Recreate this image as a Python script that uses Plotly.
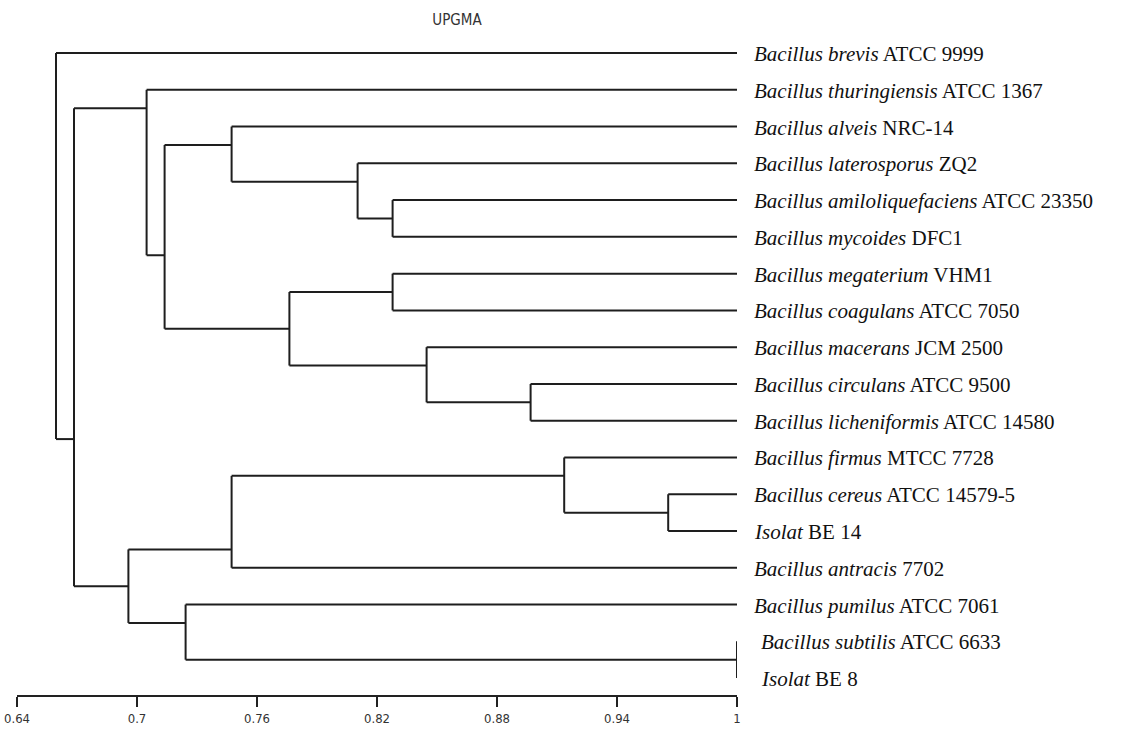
import plotly.graph_objects as go

# ---------------- data ----------------
species = [
    "Bacillus brevis", "Bacillus thuringiensis", "Bacillus alveis", "Bacillus laterosporus",
    "Bacillus amiloliquefaciens", "Bacillus mycoides", "Bacillus megaterium", "Bacillus coagulans",
    "Bacillus macerans", "Bacillus circulans", "Bacillus licheniformis", "Bacillus firmus",
    "Bacillus cereus", "Isolat", "Bacillus antracis", "Bacillus pumilus",
    "Bacillus subtilis", "Isolat",
]
strains = [
    "ATCC 9999", "ATCC 1367", "NRC-14", "ZQ2",
    "ATCC 23350", "DFC1", "VHM1", "ATCC 7050",
    "JCM 2500", "ATCC 9500", "ATCC 14580", "MTCC 7728",
    "ATCC 14579-5", "BE 14", "7702", "ATCC 7061",
    "ATCC 6633", "BE 8",
]
# merges: (child_a, child_b); ids 0..17 are leaves, 18+ are clusters in order
merge_children = [
    (16, 17), (12, 13), (11, 19), (9, 10), (8, 21), (6, 7), (4, 5), (3, 24),
    (23, 22), (2, 25), (20, 14), (15, 18), (27, 26), (1, 30), (28, 29), (31, 32), (0, 33),
]
merge_similarity = [
    1.0, 0.9656, 0.9136, 0.8968, 0.8448, 0.8278, 0.8278, 0.8103,
    0.7762, 0.7473, 0.7473, 0.7243, 0.7138, 0.7048, 0.6957, 0.6685, 0.6595,
]
tick_values = [0.64, 0.70, 0.76, 0.82, 0.88, 0.94, 1.0]
tick_labels = ["0.64", "0.7", "0.76", "0.82", "0.88", "0.94", "1"]

# ---------------- layout of the tree ----------------
n = len(species)
LEAF_SIM = 1.0
info = {}  # id -> (x, y, first_leaf, last_leaf)
for i in range(n):
    info[i] = (LEAF_SIM, float(i), i, i)

xs, ys = [], []
for k, ((a, b), s) in enumerate(zip(merge_children, merge_similarity)):
    ax, ay, af, al = info[a]
    bx, by, bf, bl = info[b]
    if af > bf:
        ax, ay, af, al, bx, by, bf, bl = bx, by, bf, bl, ax, ay, af, al
    node_y = (al + bf) / 2.0
    xs += [s, s, None]
    ys += [ay, by, None]
    xs += [s, ax, None, s, bx, None]
    ys += [ay, ay, None, by, by, None]
    info[n + k] = (s, node_y, af, bl)

fig = go.Figure()
fig.add_trace(go.Scatter(
    x=xs, y=ys, mode="lines",
    line=dict(color="#1e1e1e", width=2),
    hoverinfo="skip", showlegend=False,
))

label_font = dict(family="Liberation Serif, Times New Roman, serif", size=21, color="#111111")
for i in range(n):
    shift = 22 if i >= 16 else 15
    fig.add_annotation(
        x=LEAF_SIM, y=i, xref="x", yref="y",
        text=f"<i>{species[i]}</i> {strains[i]}",
        showarrow=False, xanchor="left", yanchor="middle",
        xshift=shift, yshift=-1, font=label_font,
    )

narrow = "Liberation Sans Narrow, Arial Narrow, DejaVu Sans Condensed, Roboto, sans-serif"
fig.update_layout(
    width=1122, height=729,
    margin=dict(l=17, r=385, t=35, b=34, autoexpand=False),
    paper_bgcolor="white", plot_bgcolor="white",
    title=dict(text="UPGMA", x=457 / 1122, xanchor="center", y=1 - 20 / 729, yanchor="middle",
               font=dict(family=narrow, size=15, color="#333333")),
    xaxis=dict(
        range=[0.64, 1.0], tickvals=tick_values, ticktext=tick_labels, automargin=False,
        showgrid=False, zeroline=False, showline=True, linecolor="#222222", linewidth=2,
        ticks="outside", ticklen=10, tickwidth=2, tickcolor="#222222",
        tickfont=dict(family=narrow, size=13, color="#333333"),
    ),
    yaxis=dict(range=[17.46, -0.49], visible=False, showgrid=False, zeroline=False,
               automargin=False),
)

fig.write_html("out.html")
